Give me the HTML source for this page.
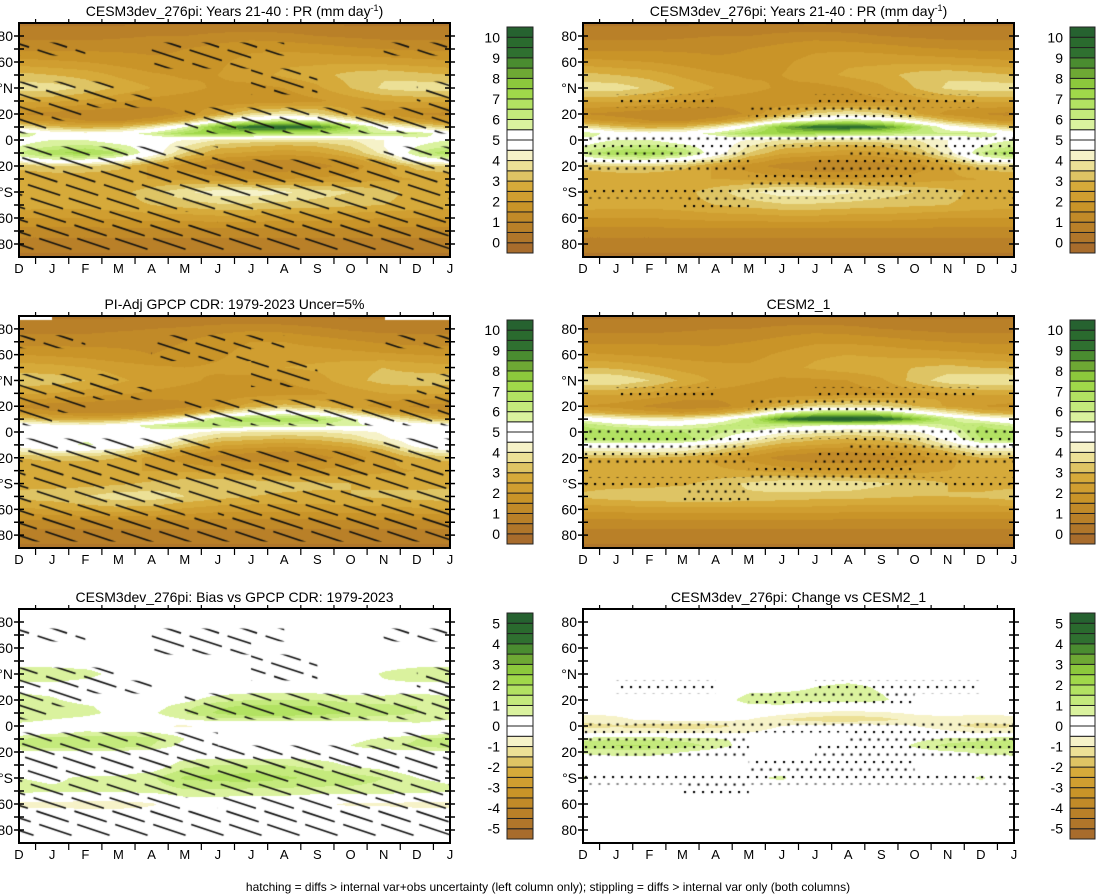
<!DOCTYPE html>
<html><head><meta charset="utf-8"><title>Precip zonal-mean seasonal cycle</title>
<style>
html,body{margin:0;padding:0;background:#fff;}
#wrap{position:relative;width:1097px;height:895px;overflow:hidden;font-family:"Liberation Sans",Arial,sans-serif;}
canvas,svg{position:absolute;left:0;top:0;}
</style></head>
<body>
<div id="wrap">
<canvas id="cv" width="1097" height="895"></canvas>
<svg id="sv" width="1097" height="895" xmlns="http://www.w3.org/2000/svg"></svg>
</div>
<script>
// ---- data ----
const LATS=[90,80,70,60,50,40,30,20,15,10,5,0,-5,-10,-15,-20,-30,-40,-50,-60,-70,-80,-90];
const MONTHS=['D','J','F','M','A','M','J','J','A','S','O','N','D','J'];
const LAT_TICK_LABELS=['80','60','°N','20','0','20','°S','60','80'];
const LAT_TICK_VALUES=[80,60,40,20,0,-20,-40,-60,-80];
const ABS_LABELS=['0','1','2','3','4','5','6','7','8','9','10'];
const DIFF_LABELS=['-5','-4','-3','-2','-1','0','1','2','3','4','5'];

const cesm3=[
[0.4,0.4,0.4,0.4,0.4,0.4,0.4,0.4,0.4,0.4,0.4,0.4,0.4,0.4],
[0.8,0.8,0.8,0.9,1,1,1.2,1.3,1.2,1,0.9,0.8,0.8,0.8],
[1.4,1.4,1.4,1.4,1.4,1.5,1.7,1.9,1.9,1.8,1.6,1.5,1.4,1.4],
[2.2,2.1,2,1.8,1.6,1.6,1.9,2.2,2.4,2.4,2.4,2.3,2.2,2.1],
[3.2,3,2.8,2.4,2.1,1.9,2,2.3,2.6,2.8,3.2,3.4,3.2,3],
[3.8,3.8,3.4,2.9,2.5,2.2,1.9,1.8,2,2.4,3,3.6,3.8,3.8],
[2.6,2.6,2.4,2.1,1.8,1.7,1.6,1.6,1.7,1.9,2.2,2.5,2.6,2.6],
[1.5,1.3,1.1,1.0,1.1,1.6,2.6,3.6,4.0,3.6,2.6,1.8,1.5,1.3],
[2.2,1.8,1.5,1.4,1.8,2.8,4.5,5.5,6,5.5,4.3,3,2.2,1.8],
[4,3.2,2.8,3,4,5.5,8,9.5,9.8,9,7,5,4,3.2],
[6,5,4.8,5,5.8,7,7.5,7,6.5,6.5,6.2,6,6,5],
[5.2,5.5,5.5,5,4.8,4.5,4,3.8,3.8,3.8,4,4.5,5.2,5.5],
[5.5,6,6.2,5.8,5,4,3.2,3,2.8,3,3.5,4.5,5.5,6],
[6,7,7.2,6.5,5,3.5,2.6,2.4,2.2,2.4,3,4.2,6,7],
[5,5.5,5.5,5,3.8,2.6,1.8,1.6,1.5,1.7,2.2,3.2,5,5.5],
[3.2,3.5,3.5,3.2,2.4,1.7,1.3,1.1,1.1,1.3,1.7,2.4,3.2,3.5],
[2.5,2.5,2.5,2.5,2.5,2.4,2.2,2,2,2.1,2.2,2.4,2.5,2.5],
[2.8,2.6,2.6,2.8,3.3,3.9,4.3,4.3,4.1,3.8,3.5,3.2,2.8,2.6],
[2.8,2.7,2.7,2.8,3,3.2,3.4,3.4,3.3,3.2,3.1,3,2.8,2.7],
[2,2,2,2.1,2.2,2.2,2.3,2.3,2.2,2.2,2.1,2,2,2],
[1.3,1.3,1.3,1.3,1.3,1.3,1.3,1.3,1.3,1.3,1.3,1.3,1.3,1.3],
[0.7,0.7,0.7,0.7,0.7,0.7,0.7,0.7,0.7,0.7,0.7,0.7,0.7,0.7],
[0.4,0.4,0.4,0.4,0.4,0.4,0.4,0.4,0.4,0.4,0.4,0.4,0.4,0.4]];

const gpcp=[
[0.4,0.4,0.4,0.4,0.4,0.4,0.4,0.4,0.4,0.4,0.4,0.4,0.4,0.4],
[0.8,0.8,0.8,0.9,1,1.1,1.3,1.4,1.3,1.1,0.9,0.8,0.8,0.8],
[1.3,1.3,1.3,1.4,1.4,1.5,1.8,2,2,1.8,1.6,1.4,1.3,1.3],
[2,1.9,1.8,1.6,1.5,1.6,1.9,2.2,2.3,2.3,2.2,2.1,2,1.9],
[2.8,2.7,2.5,2.3,2.1,2,2.1,2.3,2.5,2.6,2.8,3,2.8,2.7],
[3.3,3.3,3,2.6,2.3,2.1,1.9,1.8,2,2.3,2.8,3.2,3.3,3.3],
[2.6,2.5,2.3,2.1,1.9,1.8,1.7,1.7,1.8,1.9,2.2,2.5,2.6,2.5],
[1.4,1.2,1.1,1,1,1.3,2,2.8,3.2,3,2.3,1.7,1.4,1.2],
[2,1.6,1.4,1.4,1.6,2.2,3.6,4.6,5,4.6,3.6,2.6,2,1.6],
[3.4,2.8,2.6,2.8,3.6,4.8,6.4,7,7,6.8,5.8,4.4,3.4,2.8],
[5.2,4.8,4.6,5,5.8,6.5,6.5,6,5.8,5.8,5.6,5.4,5.2,4.8],
[5,5,5,5.2,5.2,4.8,4.2,4,4,4,4.2,4.6,5,5],
[5,5.2,5.4,5.4,5,4.2,3.4,3.2,3,3.2,3.6,4.4,5,5.2],
[4.8,5.2,5.6,5.2,4.4,3.4,2.6,2.4,2.2,2.4,2.8,3.6,4.8,5.2],
[4,4.4,4.4,4,3.2,2.4,1.8,1.6,1.5,1.7,2,2.8,4,4.4],
[3,3.2,3.2,3,2.3,1.7,1.3,1.2,1.2,1.3,1.7,2.3,3,3.2],
[2.5,2.5,2.5,2.5,2.5,2.4,2.3,2.1,2,2.1,2.2,2.4,2.5,2.5],
[2.8,2.8,2.8,2.9,3.1,3.3,3.4,3.3,3.2,3.1,3,2.9,2.8,2.8],
[3.2,3.3,3.5,3.8,3.8,3.5,3.2,3,2.9,2.9,3.0,3.1,3.2,3.3],
[2.4,2.5,2.7,2.8,2.7,2.4,2.2,2.2,2.2,2.2,2.3,2.3,2.4,2.5],
[1.3,1.3,1.3,1.3,1.3,1.3,1.3,1.3,1.3,1.3,1.3,1.3,1.3,1.3],
[0.7,0.7,0.7,0.7,0.7,0.7,0.7,0.7,0.7,0.7,0.7,0.7,0.7,0.7],
[0.4,0.4,0.4,0.4,0.4,0.4,0.4,0.4,0.4,0.4,0.4,0.4,0.4,0.4]];

const cesm2=[
[0.4,0.4,0.4,0.4,0.4,0.4,0.4,0.4,0.4,0.4,0.4,0.4,0.4,0.4],
[0.8,0.8,0.8,0.9,1,1,1.2,1.3,1.2,1,0.9,0.8,0.8,0.8],
[1.4,1.4,1.4,1.4,1.4,1.5,1.7,1.9,1.9,1.8,1.6,1.5,1.4,1.4],
[2.1,2.0,1.9,1.8,1.7,1.8,2.1,2.4,2.5,2.4,2.3,2.2,2.1,2.0],
[3,2.9,2.6,2.3,2.2,2.1,2.3,2.6,2.8,2.9,3,3.2,3,2.9],
[4,4,3.5,2.9,2.4,2.1,1.9,1.9,2,2.4,3.2,3.8,4,4],
[2.6,2.6,2.4,2.0,1.8,1.7,1.6,1.6,1.7,1.9,2.2,2.5,2.6,2.6],
[2,1.8,1.4,1.1,1.2,1.8,3,3.6,3.8,3.6,3,2.4,2,1.8],
[3,2.6,2.2,2,2.4,3.4,5.5,6.5,6.8,6.4,5.2,4,3,2.6],
[5.2,4.6,4.2,4.2,4.8,6.2,9,10.2,10.5,10,8,6.2,5.2,4.6],
[6.5,5.8,5.5,5.5,6,6.5,6,5.5,5.2,5.2,5.4,6,6.5,5.8],
[6.8,6.8,6.6,6.5,6.2,5.5,4.6,4.2,4,4,4.4,5.2,6.8,6.8],
[6.5,7,7,6.8,5.8,4.5,3.6,3.2,3,3.2,3.6,4.8,6.5,7],
[5,5,5,4.8,4.2,3.5,2.8,2.5,2.3,2.5,3,4,5,5],
[4,4,4.2,4,3.4,2.6,1.9,1.6,1.5,1.7,2.2,3,4,4],
[3,3,3,2.8,2.4,1.8,1.3,1.1,1.1,1.3,1.7,2.3,3,3],
[2.6,2.6,2.6,2.6,2.6,2.5,2.3,2.1,2.0,2.1,2.3,2.5,2.6,2.6],
[2.8,2.8,2.8,2.9,3.2,3.6,3.9,4.0,3.9,3.6,3.3,3.0,2.8,2.8],
[3.1,3.3,3.4,3.5,3.5,3.4,3.3,3.2,3.2,3.1,3.0,3.0,3.1,3.3],
[2.2,2.2,2.3,2.3,2.3,2.3,2.3,2.3,2.2,2.2,2.2,2.2,2.2,2.2],
[1.3,1.3,1.3,1.3,1.3,1.3,1.3,1.3,1.3,1.3,1.3,1.3,1.3,1.3],
[0.7,0.7,0.7,0.7,0.7,0.7,0.7,0.7,0.7,0.7,0.7,0.7,0.7,0.7],
[0.4,0.4,0.4,0.4,0.4,0.4,0.4,0.4,0.4,0.4,0.4,0.4,0.4,0.4]];

const biasObs=[
[0,0,0,0,0,0,0,0,0,0,0,0,0,0],
[0,0,0,0,0,0,0,0,0,0,0,0,0,0],
[0,0,0,0,0,0,0,0,0,0,0,0,0,0],
[0,0,0,0,0,0,0,0,0,0,0,0,0,0],
[0,0,0,0,0,0,0,0,0,0,0,0,0,0],
[1,1,0.8,0.2,0,0,0,0,0,0,0,0.6,1,1],
[0.2,0.2,0,0,0,0,0,0,0,0,0,0.3,0.2,0.2],
[0.8,0.6,0.2,0,0,0.3,0.8,1,1,1,0.8,0.6,0.8,0.6],
[1,0.9,0.6,0.2,0.2,0.8,1.4,1.6,1.6,1.5,1.3,1.2,1,0.9],
[1,0.9,0.7,0.3,0.4,1,1.6,2,2,1.8,1.5,1.2,1,0.9],
[0.8,0.5,0.3,0,0.1,0.5,0.8,0.8,0.8,0.8,0.7,0.7,0.8,0.5],
[0.2,0,0,-0.3,-0.5,-0.6,-0.4,-0.2,-0.2,-0.5,-0.3,0,0.2,0],
[0,0.3,0.6,0.6,0.5,0.2,0,0,0,-0.3,0,0,0,0.3],
[1,1.3,1.4,1.4,1.2,0.5,0,0,0,0,0.3,0.6,1,1.3],
[1.1,1.4,1.5,1.4,1,0.3,0,0,0,0,0.5,0.9,1.1,1.4],
[0.3,0.4,0.4,0.3,0.2,0,0,0,0,0,0.2,0.2,0.3,0.4],
[0,0,0,0,0,0.8,1,1,1,0.8,0.4,0.2,0,0],
[0.5,0.4,0.6,0.6,0.9,1.6,1.7,1.8,1.6,1.4,1.3,1,0.5,0.4],
[0.7,0.6,0.6,0.6,0.7,0.9,0.9,0.8,0.8,0.8,0.8,0.8,0.7,0.6],
[-0.7,-0.7,-0.8,-0.8,-0.6,0,0,0,0,-0.4,-0.6,-0.6,-0.7,-0.7],
[0,0,0,0,0,0,0,0,0,0,0,0,0,0],
[0,0,0,0,0,0,0,0,0,0,0,0,0,0],
[0,0,0,0,0,0,0,0,0,0,0,0,0,0]];

const changeVsCesm2=[
[0,0,0,0,0,0,0,0,0,0,0,0,0,0],
[0,0,0,0,0,0,0,0,0,0,0,0,0,0],
[0,0,0,0,0,0,0,0,0,0,0,0,0,0],
[0,0,0,0,0,0,0,0,0,0,0,0,0,0],
[0,0,0,0,0,0,0,0,0,0,0,0,0,0],
[0,0,0,0,0,0,0,0,0,0,0,0,0,0],
[0,0,0,0,0,0.2,0.3,0.5,0.7,0.4,0,0,0,0],
[0,0,0,0,0,0.8,0.8,0.7,0.8,0.6,0.2,0,0,0],
[0,0,0,0,0,0.3,0.4,0,0,0,0,0,0,0],
[-0.4,-0.4,-0.2,0,0,0,-0.3,-0.6,-0.7,-0.6,-0.4,-0.3,-0.4,-0.4],
[-0.8,-0.6,-0.4,-0.3,-0.3,-0.5,-1,-1.3,-1.4,-1.2,-0.8,-0.7,-0.8,-0.6],
[-1.2,-1.1,-1.2,-1.3,-1.2,-0.8,-0.5,-0.3,-0.2,-0.3,-0.5,-0.9,-1.2,-1.1],
[-0.6,-0.6,-0.6,-0.7,-0.6,-0.5,-0.3,0,0,0,0,-0.3,-0.6,-0.6],
[0.8,0.9,0.9,0.8,0.6,0.3,0,0,0,0,0.3,0.6,0.8,0.9],
[1.4,1.5,1.5,1.3,0.8,0.2,0,0,0,0,0.6,1.2,1.4,1.5],
[0.6,0.7,0.7,0.5,0.2,0,0,0,0,0,0.2,0.4,0.6,0.7],
[0,0,0,0,0,0,0,0,0,0,0,0,0,0],
[0.6,0,0,0,0,0.4,0.6,0,0,0,0,0,0.6,0],
[0,0,0,0,0,0,0,0,0,0,0,0,0,0],
[0,0,0,0,0,0,0,0,0,0,0,0,0,0],
[0,0,0,0,0,0,0,0,0,0,0,0,0,0],
[0,0,0,0,0,0,0,0,0,0,0,0,0,0],
[0,0,0,0,0,0,0,0,0,0,0,0,0,0]];

// significance masks: rows lat 90..-90 step 10, cols = 13 month intervals
const hatchMask=[
[0,0,0,0,0,0,0,0,0,0,0,0,0],
[0,0,0,0,0,0,0,0,0,0,0,0,0],
[1,1,0,0,1,1,1,1,0,0,0,1,1],
[0,0,0,0,1,1,1,0,0,0,0,0,0],
[0,0,0,0,0,0,0,1,1,0,0,0,0],
[1,1,1,0,0,0,0,1,1,0,0,0,1],
[1,1,1,1,0,0,0,0,0,0,0,0,1],
[1,1,0,0,0,1,1,1,1,1,1,1,1],
[1,0,0,0,0,1,1,1,1,1,1,1,1],
[0,0,0,0,0,0,0,0,0,0,0,0,0],
[1,1,1,1,1,1,0,0,0,0,0,1,1],
[1,1,1,1,1,1,1,1,1,1,1,1,1],
[1,1,1,1,1,1,1,1,1,1,1,1,1],
[1,1,1,1,1,1,1,1,1,1,1,1,1],
[1,1,1,1,1,1,1,1,1,1,1,1,1],
[1,1,1,1,1,0,1,1,1,1,1,1,1],
[1,1,1,1,1,1,1,1,1,1,1,1,1],
[1,1,1,1,1,1,1,1,1,1,1,1,1],
[0,0,0,0,0,0,0,0,0,0,0,0,0]];
const stippleMask=[
[0,0,0,0,0,0,0,0,0,0,0,0,0],
[0,0,0,0,0,0,0,0,0,0,0,0,0],
[0,0,0,0,0,0,0,0,0,0,0,0,0],
[0,0,0,0,0,0,0,0,0,0,0,0,0],
[0,0,0,0,0,0,0,0,0,0,0,0,0],
[0,0,0,0,0,0,0,0,0,0,0,0,0],
[0,1,1,1,0,0,0,1,1,1,1,1,0],
[0,0,0,0,0,1,1,1,1,1,0,0,0],
[0,0,0,0,0,0,0,0,0,0,0,0,0],
[1,1,1,1,1,1,1,1,1,1,1,1,1],
[1,1,1,1,1,0,0,0,1,1,1,1,1],
[1,1,1,1,1,0,0,1,1,1,1,1,1],
[0,0,0,0,0,1,1,1,1,1,0,0,0],
[1,1,1,1,1,1,1,1,1,1,1,1,1],
[0,0,0,1,1,0,0,0,0,0,0,0,0],
[0,0,0,0,0,0,0,0,0,0,0,0,0],
[0,0,0,0,0,0,0,0,0,0,0,0,0],
[0,0,0,0,0,0,0,0,0,0,0,0,0],
[0,0,0,0,0,0,0,0,0,0,0,0,0]];

const COLORS=["#a86c2c","#b0762a","#b98028","#c18a28","#c99428","#d09e30","#d6aa3a","#dec464","#ece096","#f6f2c8","#ffffff","#ffffff","#daf29e","#c4ea7c","#b2e262","#a0d84a","#8cc83c","#6ea834","#4a8c30","#2f7030","#2a6a2e","#266230"];

const PANELS=[
 {name:'cesm3-panel',x:19,y:23,w:431,h:234,data:cesm3,vmin:0,labels:ABS_LABELS,cbx:507,mask:'hatch',title:'CESM3dev_276pi: Years 21-40 : PR (mm day',sup:true},
 {name:'cesm3-panel-right',x:583,y:23,w:431,h:234,data:cesm3,vmin:0,labels:ABS_LABELS,cbx:1070,mask:'stipple',title:'CESM3dev_276pi: Years 21-40 : PR (mm day',sup:true},
 {name:'gpcp-panel',x:19,y:316,w:431,h:232,data:gpcp,vmin:0,labels:ABS_LABELS,cbx:507,mask:'hatch',title:'PI-Adj GPCP CDR: 1979-2023 Uncer=5%',missing:true},
 {name:'cesm2-panel',x:583,y:316,w:431,h:232,data:cesm2,vmin:0,labels:ABS_LABELS,cbx:1070,mask:'stipple',title:'CESM2_1'},
 {name:'bias-panel',x:19,y:609,w:431,h:234,data:biasObs,vmin:-5,labels:DIFF_LABELS,cbx:507,mask:'hatch',title:'CESM3dev_276pi: Bias vs GPCP CDR: 1979-2023'},
 {name:'change-panel',x:583,y:609,w:431,h:234,data:changeVsCesm2,vmin:-5,labels:DIFF_LABELS,cbx:1070,mask:'stipple',title:'CESM3dev_276pi: Change vs CESM2_1'}
];

// ---- helpers ----
function sample(data,m,lat){
  let i=0; while(i<LATS.length-2 && lat<LATS[i+1]) i++;
  const t=Math.min(1,Math.max(0,(LATS[i]-lat)/(LATS[i]-LATS[i+1])));
  let j=Math.floor(m); if(j>12) j=12; if(j<0) j=0; const u=m-j;
  const a=data[i][j]*(1-u)+data[i][j+1]*u;
  const b=data[i+1][j]*(1-u)+data[i+1][j+1]*u;
  return a*(1-t)+b*t;
}
function colorIdx(v,vmin){ if(v<vmin) return 0; return Math.min(21,Math.floor((v-vmin)/0.5)+1); }
function hex2rgb(h){return [parseInt(h.substr(1,2),16),parseInt(h.substr(3,2),16),parseInt(h.substr(5,2),16)];}
const RGB=COLORS.map(hex2rgb);
function xScale(p,m){return p.x+m/13*p.w;}
function yScale(p,lat){return p.y+(90-lat)/180*p.h;}

const cv=document.getElementById('cv'); const ctx=cv.getContext('2d');
const sv=document.getElementById('sv'); const NS='http://www.w3.org/2000/svg';
function mk(tag,attrs,parent){const e=document.createElementNS(NS,tag);for(const k in attrs)e.setAttribute(k,attrs[k]);(parent||sv).appendChild(e);return e;}

PANELS.forEach(p=>{
  const img=ctx.createImageData(p.w,p.h);
  for(let py=0;py<p.h;py++){
    const lat=90-(py+0.5)/p.h*180;
    for(let px=0;px<p.w;px++){
      const m=(px+0.5)/p.w*13;
      const c=RGB[colorIdx(sample(p.data,m,lat),p.vmin)];
      const k=(py*p.w+px)*4; img.data[k]=c[0];img.data[k+1]=c[1];img.data[k+2]=c[2];img.data[k+3]=255;
    }
  }
  ctx.putImageData(img,p.x,p.y);
  if(p.missing){ctx.fillStyle='#fff';ctx.fillRect(p.x,p.y,33,4);ctx.fillRect(p.x+p.w-65,p.y,65,4);}
  ctx.save();
  ctx.beginPath();
  const maskArr=p.mask==='hatch'?hatchMask:stippleMask;
  for(let r=0;r<19;r++){const latc=90-r*10;const y0=yScale(p,Math.min(90,latc+5)),y1=yScale(p,Math.max(-90,latc-5));
    for(let c=0;c<13;c++){ if(maskArr[r][c]){ctx.rect(xScale(p,c),y0,p.w/13,y1-y0);} }}
  ctx.clip();
  ctx.fillStyle='#000';ctx.strokeStyle='#111';
  if(p.mask==='hatch'){
    const slope=0.33;
    ctx.lineWidth=1.6; ctx.setLineDash([34,9]);
    for(let c=-p.h/slope;c<p.w;c+=38){ctx.beginPath();ctx.moveTo(p.x+c,p.y);ctx.lineTo(p.x+c+p.h/slope,p.y+p.h);ctx.stroke();}
  } else {
    let row=0;
    for(let yy=p.y+3;yy<p.y+p.h;yy+=7.5,row++){
      for(let xx=p.x+3+(row%2)*4.5;xx<p.x+p.w;xx+=9){ctx.fillRect(xx-1,yy-1,2.1,2.1);}
    }
  }
  ctx.restore();

  const g=mk('g',{});
  
  
  const fr=mk('rect',{x:p.x,y:p.y,width:p.w,height:p.h,fill:'none',stroke:'#000','stroke-width':2},g);
  
  
  const t=mk('text',{x:p.x+p.w/2,y:p.y-7,'text-anchor':'middle','font-size':14,fill:'#000'},g);
  
  
  t.textContent=p.title;
  if(p.sup){const s=mk('tspan',{dy:-5,'font-size':9},t);s.textContent='-1';const s2=mk('tspan',{dy:5},t);s2.textContent=')';}
  for(let lat=-80;lat<=80;lat+=10){
    const y=yScale(p,lat);
    mk('line',{x1:p.x-5,x2:p.x+5,y1:y,y2:y,stroke:'#000','stroke-width':1.5},g);
    mk('line',{x1:p.x+p.w-5,x2:p.x+p.w+5,y1:y,y2:y,stroke:'#000','stroke-width':1.5},g);
  }
  LAT_TICK_VALUES.forEach((lv,i)=>{
    const l=mk('text',{x:p.x-6,y:yScale(p,lv)+5,'text-anchor':'end','font-size':14,fill:'#000'},g);
    
    
    l.textContent=LAT_TICK_LABELS[i];
  });
  for(let i=0;i<13;i++){
    const x=xScale(p,i+0.5);
    mk('line',{x1:x,x2:x,y1:p.y+p.h,y2:p.y+p.h+7,stroke:'#000','stroke-width':1.2},g);
    mk('line',{x1:x,x2:x,y1:p.y,y2:p.y-4,stroke:'#000','stroke-width':1.2},g);
  }
  MONTHS.forEach((mn,i)=>{
    const l=mk('text',{x:xScale(p,i),y:p.y+p.h+16,'text-anchor':'middle','font-size':13,fill:'#000'},g);
    
    
    l.textContent=mn;
  });
  const cb=mk('g',{});
  
  
  const top=p.y+4, bot=p.y+p.h-4, bh=(bot-top)/22, cw=p.cbx>1000?25:26;
  COLORS.forEach((col,k)=>{
    const r=mk('rect',{x:p.cbx,y:bot-(k+1)*bh,width:cw,height:bh,fill:col,stroke:'#222','stroke-width':1},cb);
    
    
  });
  p.labels.forEach((lb,i)=>{
    const y=bot-(1+2*i)*bh;
    const l=mk('text',{x:p.cbx-7,y:y+5,'text-anchor':'end','font-size':14,fill:'#000'},cb);
    
    
    l.textContent=lb;
  });
});
const ft=mk('text',{x:548,y:891,'text-anchor':'middle','font-size':12,fill:'#000'});


ft.textContent='hatching = diffs > internal var+obs uncertainty (left column only); stippling = diffs > internal var only (both columns)';
</script>
</body></html>
